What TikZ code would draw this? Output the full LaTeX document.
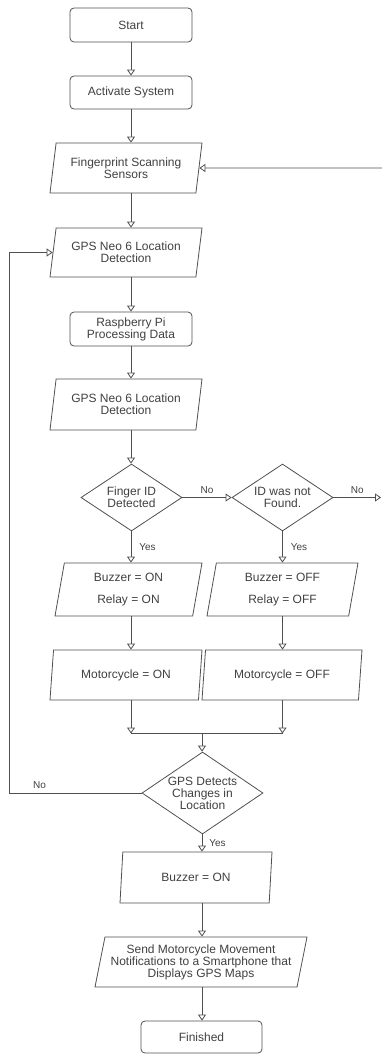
\documentclass[tikz,border=0pt]{standalone}
\usepackage{fontspec}
\setmainfont{Liberation Sans}
\usetikzlibrary{shapes.geometric, arrows.meta}
\definecolor{linegray}{HTML}{505050}
\definecolor{textgray}{HTML}{404040}
\begin{document}
\begin{tikzpicture}[
        x=1pt, y=-1pt, % pixel-like coordinates, y runs downwards
        every node/.style = {text=textgray, font=\fontsize{12}{12}\selectfont, align=center},
        arr/.style = {draw=linegray, line width=0.8pt, -{Triangle[fill=white, length=6pt, width=8pt]}},
        term/.style = {draw=linegray, line width=0.8pt, rounded corners=4pt, minimum width=122pt, minimum height=34pt, inner sep=1pt},
        io/.style = {draw=linegray, line width=0.8pt, trapezium, trapezium left angle=75, trapezium right angle=105,
                trapezium stretches body, minimum width=152pt, minimum height=50pt, inner sep=1pt},
        dec/.style = {draw=linegray, line width=0.8pt, diamond, aspect=1.5, inner sep=-1pt, minimum width=101pt, minimum height=67pt},
        lbl/.style = {text=textgray, font=\fontsize{10}{10}\selectfont, inner sep=1pt},
    ]
    \useasboundingbox (0,0) rectangle (382,1054);

    % columns of the arrows
    \coordinate (c1) at (131,0);
    \coordinate (c2) at (282.5,0);
    \coordinate (c3) at (202,0);
    \coordinate (lf) at (9,0);
    \coordinate (rt1) at (382,168);
    \coordinate (rt2) at (381,497.5);

    \node[term] (start) at (131,25) {Start};
    \node[term, minimum height=33pt] (act) at (131,92.5) {Activate System};
    \node[io] (fing) at (126,168) {Fingerprint Scanning\\Sensors};
    \node[io, minimum height=49pt] (gps1) at (126,252.5) {GPS Neo 6 Location\\Detection};
    \node[term] (rasp) at (131,329) {Raspberry Pi\\Processing Data};
    \node[io, minimum height=51pt] (gps2) at (126,404.5) {GPS Neo 6 Location\\Detection};
    \node[dec] (fid) at (131.5,497.5) {Finger ID\\Detected};
    \node[dec] (nf) at (282.5,497.5) {ID was not\\Found.};
    \node[io, minimum width=147pt, minimum height=53pt] (buzon) at (128.5,589.5) {Buzzer = ON\\[10pt]Relay = ON};
    \node[io, minimum width=151pt, minimum height=53pt] (buzoff) at (282.5,589.5) {Buzzer = OFF\\[10pt]Relay = OFF};
    \node[io] (motoon) at (126,675) {Motorcycle = ON};
    \node[io, minimum width=160pt] (motooff) at (282,675) {Motorcycle = OFF};
    \node[dec, minimum width=121pt, minimum height=82pt, aspect=1.47] (chg) at (202.5,793) {GPS Detects\\Changes in\\Location};
    \node[io, minimum height=51pt] (buz) at (196,877.5) {Buzzer = ON};
    \node[io, minimum width=212pt] (send) at (201,962) {Send Motorcycle Movement\\Notifications to a Smartphone that\\Displays GPS Maps};
    \node[term, minimum width=121pt, minimum height=32pt] (fin) at (201.5,1037) {Finished};

    \coordinate (mrg) at (202,733.5); % merge of both branches

    \draw[arr] (start) -- (act);
    \draw[arr] (act.south) -- (act.south |- fing.north);
    \draw[arr] (fing.south -| c1) -- (gps1.north -| c1);
    \draw[arr] (gps1.south -| c1) -- (rasp.north -| c1);
    \draw[arr] (rasp.south -| c1) -- (gps2.north -| c1);
    \draw[arr] (gps2.south -| c1) -- (fid.north -| c1);
    \draw[arr] (fid) -- node[lbl, above=3pt] {No} (nf);
    \draw[arr] (nf) -- node[lbl, above=3pt] {No} (rt2);
    \draw[arr] (rt1) -- (fing.east);
    \draw[arr] (fid.south -| c1) -- node[lbl, right=7pt] {Yes} (buzon.north -| c1);
    \draw[arr] (nf.south) -- node[lbl, right=7pt] {Yes} (buzoff.north -| c2);
    \draw[arr] (buzon.south -| c1) -- (motoon.north -| c1);
    \draw[arr] (buzoff.south -| c2) -- (motooff.north -| c2);
    \draw[arr] (motoon.south -| c1) -- (mrg -| c1);
    \draw[arr] (motooff.south -| c2) -- (mrg -| c2);
    \draw[draw=linegray, line width=0.8pt] (mrg -| c1) -- (mrg -| c2);
    \draw[arr] (mrg) -- (chg.north -| mrg);
    \draw[arr] (chg.west) -- node[lbl, above=3pt, pos=0.77] {No} (chg.west -| lf) |- (gps1.west);
    \draw[arr] (chg.south -| c3) -- node[lbl, right=6pt] {Yes} (buz.north -| c3);
    \draw[arr] (buz.south -| c3) -- (send.north -| c3);
    \draw[arr] (send.south -| c3) -- (fin.north -| c3);
\end{tikzpicture}
\end{document}
